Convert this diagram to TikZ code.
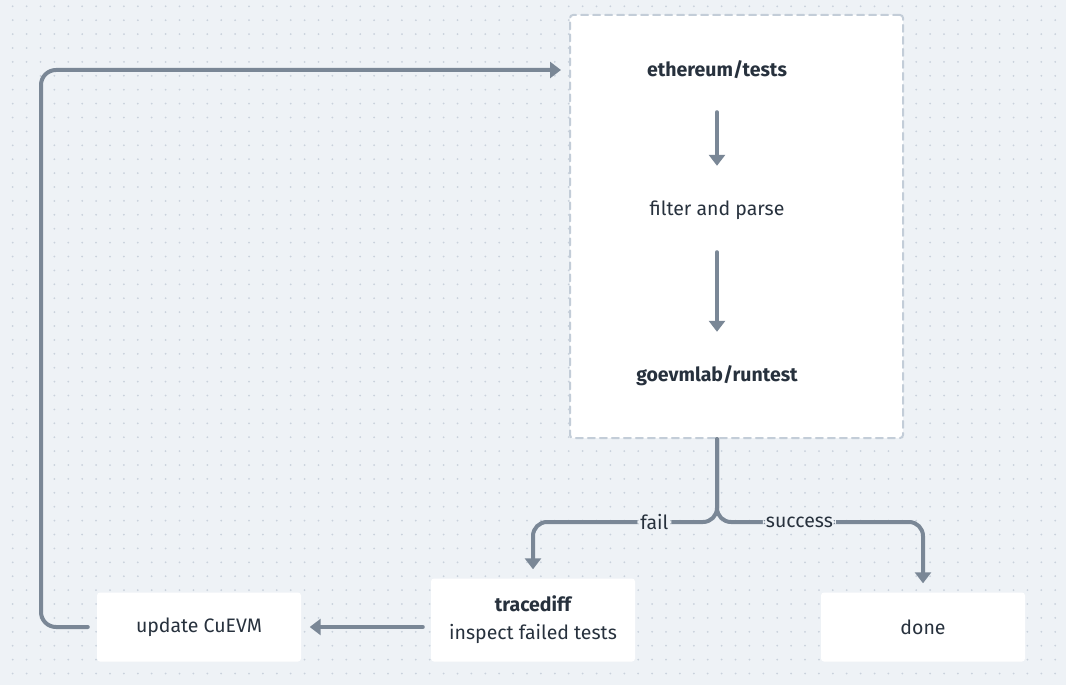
\documentclass[tikz,border=0pt]{standalone}
\usepackage{fontspec}
\setmainfont{Fira Sans}
\usetikzlibrary{arrows.meta}

\definecolor{bgc}{HTML}{EEF2F6}
\definecolor{dotc}{HTML}{C9D1DC}
\definecolor{edgec}{HTML}{C3CDD8}
\definecolor{wire}{HTML}{7A8796}
\definecolor{ink}{HTML}{27313D}

\begin{document}
\begin{tikzpicture}[x=1pt, y=-1pt, line cap=round, line join=round]
  \useasboundingbox (0,0) rectangle (1066,685);
  \tikzset{
    box/.style={fill=white, rounded corners=3pt, inner sep=0pt, align=center,
      minimum width=204pt, minimum height=68pt, text=ink, font=\fontsize{19.5}{28}\selectfont},
    grpbox/.style={draw=edgec, fill=white, line width=2pt, dash pattern=on 7pt off 5pt,
      rounded corners=3pt, minimum width=333pt, minimum height=423pt, inner sep=0pt},
    flow/.style={draw=wire, line width=4pt, -{Triangle[width=16pt,length=11pt]}},
    tag/.style={fill=bgc, text=ink, inner sep=3pt, font=\fontsize{19.5}{22}\selectfont}
  }

  % --- background with dot grid
  \fill[bgc] (0,0) rectangle (1066,685);
  \foreach \i in {0,...,76}
    \foreach \j in {0,...,49}
      \fill[dotc] ({12.7+13.9*\i},{6.3+13.9*\j}) circle (1);

  % --- dashed group round the test pipeline
  \node[grpbox] (grp) at (736.5,226.5) {};

  % --- nodes
  \node[box] (eth)   at (717,70)  {\bfseries ethereum/tests};
  \node[box] (filt)  at (717,210) {filter and parse};
  \node[box] (run)   at (717,376) {\bfseries goevmlab/runtest};

  \node[box, minimum height=83pt] (trace) at (533,620) {\bfseries tracediff\\inspect failed tests};
  \node[box, minimum height=69pt] (done)  at (923,627) {done};
  \node[box, minimum height=69pt] (upd)   at (199,627) {update CuEVM};

  \coordinate (split) at (717,522);
  \coordinate (back)  at (41,70);

  % --- pipeline arrows
  \draw[flow, shorten <=8pt, shorten >=10pt] (eth) -- (filt);
  \draw[flow, shorten <=8pt, shorten >=10pt] (filt) -- (run);

  % --- branch into fail / success
  \draw[flow, rounded corners=14pt, shorten >=9pt] (grp.south -| run.south) -- (split)
    -| node[tag, pos=0.17] {fail} (trace.north);
  \draw[flow, rounded corners=14pt, shorten >=9pt] (grp.south -| run.south) -- (split)
    -| node[tag, pos=0.2] {success} (done.north);

  % --- back to the start
  \draw[flow, shorten <=8pt, shorten >=8.5pt] (trace.west |- upd.east) -- (upd.east);
  \draw[flow, rounded corners=15pt, shorten <=9pt, shorten >=8pt] (upd.west) -| (back)
    -- (grp.west |- eth);

\end{tikzpicture}
\end{document}
